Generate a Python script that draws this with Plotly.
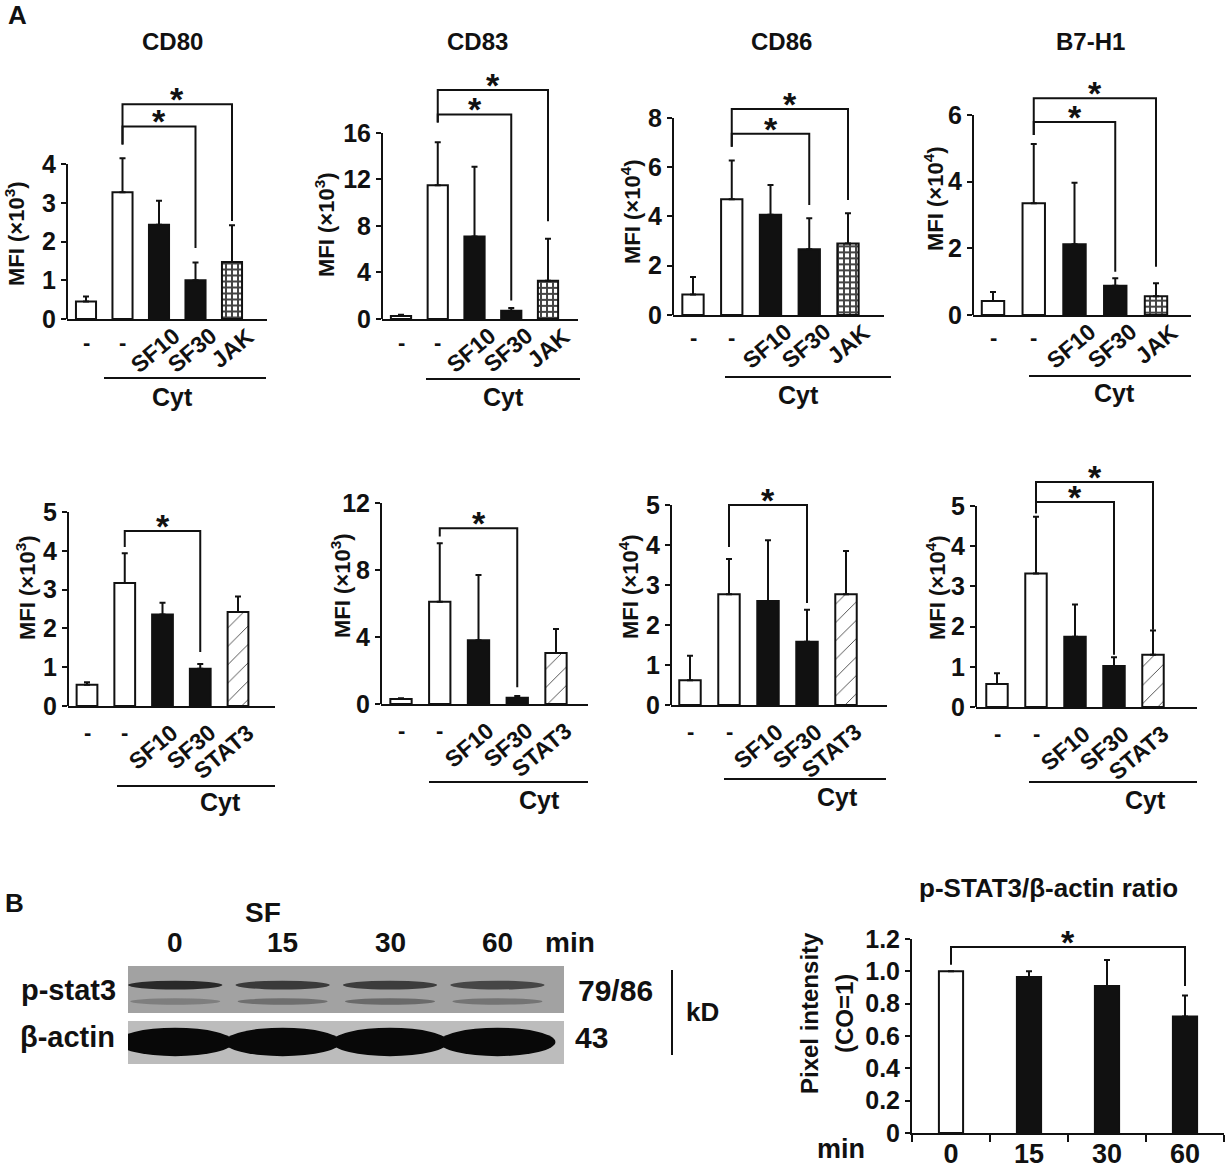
import plotly.graph_objects as go

W, H = 1228, 1172
FONT = "Liberation Sans, Arial, Helvetica, sans-serif"
INK = "#111111"

# ---- panel A: MFI, mean and upper SD ----
top_groups = ["-", "-", "SF10", "SF30", "JAK"]
bot_groups = ["-", "-", "SF10", "SF30", "STAT3"]

cd80_jak = [0.45, 3.27, 2.43, 1.00, 1.47]
cd80_jak_sd = [0.13, 0.88, 0.62, 0.46, 0.95]
cd83_jak = [0.25, 11.5, 7.1, 0.70, 3.3]
cd83_jak_sd = [0.12, 3.7, 6.0, 0.25, 3.6]
cd86_jak = [0.83, 4.70, 4.07, 2.67, 2.90]
cd86_jak_sd = [0.71, 1.57, 1.21, 1.26, 1.23]
b7h1_jak = [0.42, 3.35, 2.12, 0.88, 0.56]
b7h1_jak_sd = [0.27, 1.78, 1.85, 0.22, 0.39]

cd80_stat3 = [0.55, 3.17, 2.36, 0.96, 2.42]
cd80_stat3_sd = [0.06, 0.77, 0.30, 0.12, 0.40]
cd83_stat3 = [0.30, 6.10, 3.80, 0.38, 3.05]
cd83_stat3_sd = [0.05, 3.50, 3.90, 0.10, 1.43]
cd86_stat3 = [0.62, 2.77, 2.60, 1.58, 2.77]
cd86_stat3_sd = [0.61, 0.88, 1.52, 0.80, 1.08]
b7h1_stat3 = [0.57, 3.32, 1.75, 1.02, 1.30]
b7h1_stat3_sd = [0.27, 1.41, 0.80, 0.22, 0.60]

# significance brackets: (from bar, to bar, bracket level, left foot, right foot)
cd80_jak_sig = [(1, 3, 4.97, 4.5, 1.83), (1, 4, 5.54, 4.5, 2.53)]
cd83_jak_sig = [(1, 3, 17.6, 16.9, 1.6), (1, 4, 19.7, 16.9, 8.4)]
cd86_jak_sig = [(1, 3, 7.36, 6.83, 4.47), (1, 4, 8.37, 6.83, 4.67)]
b7h1_jak_sig = [(1, 3, 5.79, 5.4, 1.3), (1, 4, 6.5, 5.4, 1.45)]
cd80_stat3_sig = [(1, 3, 4.51, 4.1, 1.39)]
cd83_stat3_sig = [(1, 3, 10.5, 10.0, 1.0)]
cd86_stat3_sig = [(1, 3, 5.0, 3.95, 2.55)]
b7h1_stat3_sig = [(1, 3, 5.1, 4.82, 1.3), (1, 4, 5.6, 4.82, 1.92)]

# ---- panel B ----
blot_lanes = ["0", "15", "30", "60"]
pstat3_upper = [0.95, 0.82, 0.80, 0.72]   # band darkness
pstat3_lower = [0.35, 0.50, 0.55, 0.45]
actin_band = [1.0, 1.0, 1.0, 1.0]

ratio_min = ["0", "15", "30", "60"]
ratio_val = [1.00, 0.965, 0.91, 0.72]
ratio_sd = [0.0, 0.035, 0.16, 0.13]
ratio_sig = [(0, 3, 1.15, 1.04, 0.91)]


def fx(p):
    return p / W


def fy(p):
    return 1 - p / H


def font(size):
    return dict(family=FONT, size=size, color=INK, weight="bold")


notes = []
shapes = []
axes = {}


def note(text, x, y, size, xref="paper", yref="paper", **kw):
    d = dict(text=text, x=x, y=y, xref=xref, yref=yref, showarrow=False, font=font(size),
             xanchor="center", yanchor="middle")
    d.update(kw)
    notes.append(d)


def ax_ids(i):
    s = "" if i == 1 else str(i)
    return "x" + s, "y" + s, "xaxis" + s, "yaxis" + s


# layout of each MFI panel, in picture pixels
A_PANELS = [
    dict(v=cd80_jak, sd=cd80_jak_sd, g=top_groups, sig=cd80_jak_sig, exp=3, title="CD80",
         box=(67, 267, 319, 164), ttop=4, dtick=1, ymax=6, cent=(86, 232),
         tpos=(172, 42), ypos=(15, 234), uline=(104, 266, 378), cyt=(172, 397), row="top"),
    dict(v=cd83_jak, sd=cd83_jak_sd, g=top_groups, sig=cd83_jak_sig, exp=3, title="CD83",
         box=(382, 578, 319, 133), ttop=16, dtick=4, ymax=21, cent=(401, 548),
         tpos=(477, 42), ypos=(325, 225), uline=(426, 580, 379), cyt=(503, 397), row="top"),
    dict(v=cd86_jak, sd=cd86_jak_sd, g=top_groups, sig=cd86_jak_sig, exp=4, title="CD86",
         box=(673, 884, 315, 118), ttop=8, dtick=2, ymax=9, cent=(693, 848),
         tpos=(782, 42), ypos=(631, 212), uline=(725, 891, 377), cyt=(798, 395), row="top"),
    dict(v=b7h1_jak, sd=b7h1_jak_sd, g=top_groups, sig=b7h1_jak_sig, exp=4, title="B7-H1",
         box=(973, 1191, 315, 115), ttop=6, dtick=2, ymax=7, cent=(993, 1156),
         tpos=(1090, 42), ypos=(934, 199), uline=(1029, 1191, 376), cyt=(1114, 393), row="top"),
    dict(v=cd80_stat3, sd=cd80_stat3_sd, g=bot_groups, sig=cd80_stat3_sig, exp=3, title=None,
         box=(68, 275, 706, 512), ttop=5, dtick=1, ymax=5, cent=(87, 238),
         tpos=None, ypos=(26, 588), uline=(117, 275, 786), cyt=(220, 802), row="bot"),
    dict(v=cd83_stat3, sd=cd83_stat3_sd, g=bot_groups, sig=cd83_stat3_sig, exp=3, title=None,
         box=(381, 588, 704, 503), ttop=12, dtick=4, ymax=12, cent=(401, 556),
         tpos=None, ypos=(341, 586), uline=(429, 588, 782), cyt=(539, 800), row="bot"),
    dict(v=cd86_stat3, sd=cd86_stat3_sd, g=bot_groups, sig=cd86_stat3_sig, exp=4, title=None,
         box=(671, 887, 705, 505), ttop=5, dtick=1, ymax=5.3, cent=(690, 846),
         tpos=None, ypos=(629, 587), uline=(724, 886, 779), cyt=(837, 797), row="bot"),
    dict(v=b7h1_stat3, sd=b7h1_stat3_sd, g=bot_groups, sig=b7h1_stat3_sig, exp=4, title=None,
         box=(976, 1197, 707, 506), ttop=5, dtick=1, ymax=6, cent=(997, 1153),
         tpos=None, ypos=(936, 588), uline=(1029, 1197, 782), cyt=(1145, 800), row="bot"),
]
ROW_LABEL = {"top": dict(dash=23, lab=1, dx=29), "bot": dict(dash=26, lab=11, dx=23)}

fig = go.Figure()

for i, p in enumerate(A_PANELS, start=1):
    xn, yn, xk, yk = ax_ids(i)
    left, right, base, ttop_px = p["box"]
    c0, c4 = p["cent"]
    step = (c4 - c0) / 4
    top_px = base - (base - ttop_px) * p["ymax"] / p["ttop"]
    n_ticks = int(round(p["ttop"] / p["dtick"]))
    axes[xk] = dict(domain=[fx(left), fx(right)], range=[(left - c0) / step, (right - c0) / step],
                    anchor=yn, showline=True, linecolor=INK, linewidth=2, showticklabels=False,
                    ticks="", showgrid=False, zeroline=False, fixedrange=True, automargin=False)
    axes[yk] = dict(domain=[fy(base), fy(top_px)], range=[0, p["ymax"]], anchor=xn,
                    showline=False, tickvals=[k * p["dtick"] for k in range(n_ticks + 1)],
                    ticks="outside", ticklen=5, tickwidth=2, tickcolor=INK, tickfont=font(25),
                    ticklabelstandoff=0, showgrid=False, zeroline=False, fixedrange=True,
                    automargin=False)
    # y axis line only up to the top tick
    shapes.append(dict(type="line", xref=xn + " domain", yref=yn, x0=0, x1=0, y0=0, y1=p["ttop"],
                       line=dict(color=INK, width=2)))

    pat = "+" if p["row"] == "top" else "/"
    fig.add_trace(go.Bar(
        x=list(range(5)), y=p["v"], width=0.55, xaxis=xn, yaxis=yn,
        marker=dict(color=["white", "white", INK, INK, "white"],
                    line=dict(color=INK, width=2),
                    pattern=dict(shape=["", "", "", "", pat], fgcolor=INK, bgcolor="white",
                                 fgopacity=1,
                                 size=6 if pat == "+" else 13,
                                 solidity=0.55 if pat == "+" else 0.07)),
        error_y=dict(type="data", symmetric=False, array=p["sd"], arrayminus=[0] * 5,
                     color=INK, thickness=2, width=3),
        showlegend=False, hoverinfo="skip",
    ))
    for a, b, h, lf, rf in p["sig"]:
        fig.add_trace(go.Scatter(x=[a, a, b, b], y=[lf, h, h, rf], mode="lines", xaxis=xn, yaxis=yn,
                                 line=dict(color=INK, width=2), showlegend=False, hoverinfo="skip"))
        note("*", (a + b) / 2, h, 34, xref=xn, yref=yn, yanchor="bottom", yshift=-16)

    rl = ROW_LABEL[p["row"]]
    for k, g in enumerate(p["g"]):
        if g == "-":
            note("-", k, fy(base + rl["dash"]), 22, xref=xn)
        else:
            note(g, k, fy(base + rl["lab"]), 23, xref=xn, xanchor="right", yanchor="top",
                 textangle=-40, xshift=rl["dx"])
    ux0, ux1, uy = p["uline"]
    shapes.append(dict(type="line", xref="paper", yref="paper", x0=fx(ux0), x1=fx(ux1),
                       y0=fy(uy), y1=fy(uy), line=dict(color=INK, width=2)))
    note("Cyt", fx(p["cyt"][0]), fy(p["cyt"][1]), 25)
    if p["title"]:
        note(p["title"], fx(p["tpos"][0]), fy(p["tpos"][1]), 24)
    note("MFI (×10<sup>%d</sup>)" % p["exp"], fx(p["ypos"][0]), fy(p["ypos"][1]), 22,
         textangle=-90)

note("A", fx(17), fy(15), 26)

# ---- panel B: western blot sketch ----
axes["xaxis9"] = dict(domain=[fx(128), fx(564)], range=[0.56, 4.62], anchor="y9", visible=False,
                      fixedrange=True, automargin=False)
axes["yaxis9"] = dict(domain=[fy(1064), fy(966)], range=[0, 2], anchor="x9", visible=False,
                      fixedrange=True, automargin=False)
shapes.append(dict(type="rect", xref="x9 domain", yref="y9", x0=0, x1=1, y0=1.04, y1=2,
                   fillcolor="#a2a2a2", line=dict(width=0), layer="below"))
shapes.append(dict(type="rect", xref="x9 domain", yref="y9", x0=0, x1=1, y0=0, y1=0.88,
                   fillcolor="#bcbcbc", line=dict(width=0), layer="below"))
for k, (u, lo, ac) in enumerate(zip(pstat3_upper, pstat3_lower, actin_band), start=1):
    shapes.append(dict(type="circle", xref="x9", yref="y9", x0=k - 0.44, x1=k + 0.44,
                       y0=1.52, y1=1.70, fillcolor="rgba(35,35,35,%.2f)" % u, line=dict(width=0)))
    shapes.append(dict(type="circle", xref="x9", yref="y9", x0=k - 0.42, x1=k + 0.42,
                       y0=1.21, y1=1.34, fillcolor="rgba(60,60,60,%.2f)" % lo, line=dict(width=0)))
    shapes.append(dict(type="circle", xref="x9", yref="y9", x0=k - 0.54, x1=k + 0.54,
                       y0=0.16, y1=0.74, fillcolor="rgba(8,8,8,%.2f)" % ac, line=dict(width=0)))
for k, lane in enumerate(blot_lanes, start=1):
    note(lane, k, fy(942), 28, xref="x9")
note("min", fx(570), fy(942), 28)
note("SF", fx(263), fy(912), 28)
note("B", fx(14), fy(903), 26)
note("p-stat3", fx(68), fy(990), 29)
note("β-actin", fx(67), fy(1037), 29)
note("79/86", fx(615), fy(990), 30)
note("43", fx(591), fy(1037), 30)
note("kD", fx(702), fy(1012), 26)
shapes.append(dict(type="line", xref="paper", yref="paper", x0=fx(672), x1=fx(672),
                   y0=fy(970), y1=fy(1055), line=dict(color=INK, width=2)))

# ---- panel B: p-STAT3 / beta-actin ratio ----
axes["xaxis10"] = dict(domain=[fx(912), fx(1224)], type="category", categoryorder="array",
                       categoryarray=ratio_min, range=[-0.5, 3.5], anchor="y10", showline=True,
                       linecolor=INK, linewidth=2, ticks="outside", tickson="boundaries",
                       ticklen=7, tickwidth=2, tickcolor=INK, tickfont=font(27),
                       ticklabelstandoff=-4, showgrid=False, zeroline=False, fixedrange=True,
                       automargin=False)
axes["yaxis10"] = dict(domain=[fy(1133), fy(939)], range=[0, 1.2], anchor="x10", showline=True,
                       linecolor=INK, linewidth=2, tickvals=[0, 0.2, 0.4, 0.6, 0.8, 1.0, 1.2],
                       ticktext=["0", "0.2", "0.4", "0.6", "0.8", "1.0", "1.2"],
                       ticks="outside", ticklen=5, tickwidth=2, tickcolor=INK, tickfont=font(25),
                       ticklabelstandoff=0, showgrid=False, zeroline=False, fixedrange=True,
                       automargin=False)
fig.add_trace(go.Bar(
    x=ratio_min, y=ratio_val, width=0.31, xaxis="x10", yaxis="y10",
    marker=dict(color=["white", INK, INK, INK], line=dict(color=INK, width=2)),
    error_y=dict(type="data", symmetric=False, array=ratio_sd, arrayminus=[0] * 4,
                 color=INK, thickness=2, width=3),
    showlegend=False, hoverinfo="skip",
))
for a, b, h, lf, rf in ratio_sig:
    fig.add_trace(go.Scatter(x=[ratio_min[a], ratio_min[a], ratio_min[b], ratio_min[b]],
                             y=[lf, h, h, rf], mode="lines", xaxis="x10", yaxis="y10",
                             line=dict(color=INK, width=2), showlegend=False, hoverinfo="skip"))
    note("*", (a + b) / 2, h, 34, xref="x10", yref="y10", yanchor="bottom", yshift=-16)
note("p-STAT3/β-actin ratio", fx(1048), fy(888), 26)
note("Pixel intensity", fx(809), fy(1013), 24, textangle=-90)
note("(CO=1)", fx(844), fy(1014), 24, textangle=-90)
note("min", fx(841), fy(1149), 27)

fig.update_layout(
    width=W, height=H, margin=dict(l=0, r=0, t=0, b=0, autoexpand=False),
    paper_bgcolor="white", plot_bgcolor="rgba(0,0,0,0)",
    font=font(20), showlegend=False, barmode="overlay",
    annotations=notes, shapes=shapes, **axes,
)
fig.write_html("out.html", config={"displayModeBar": False},
               post_script="document.body.style.margin = '0px';")
